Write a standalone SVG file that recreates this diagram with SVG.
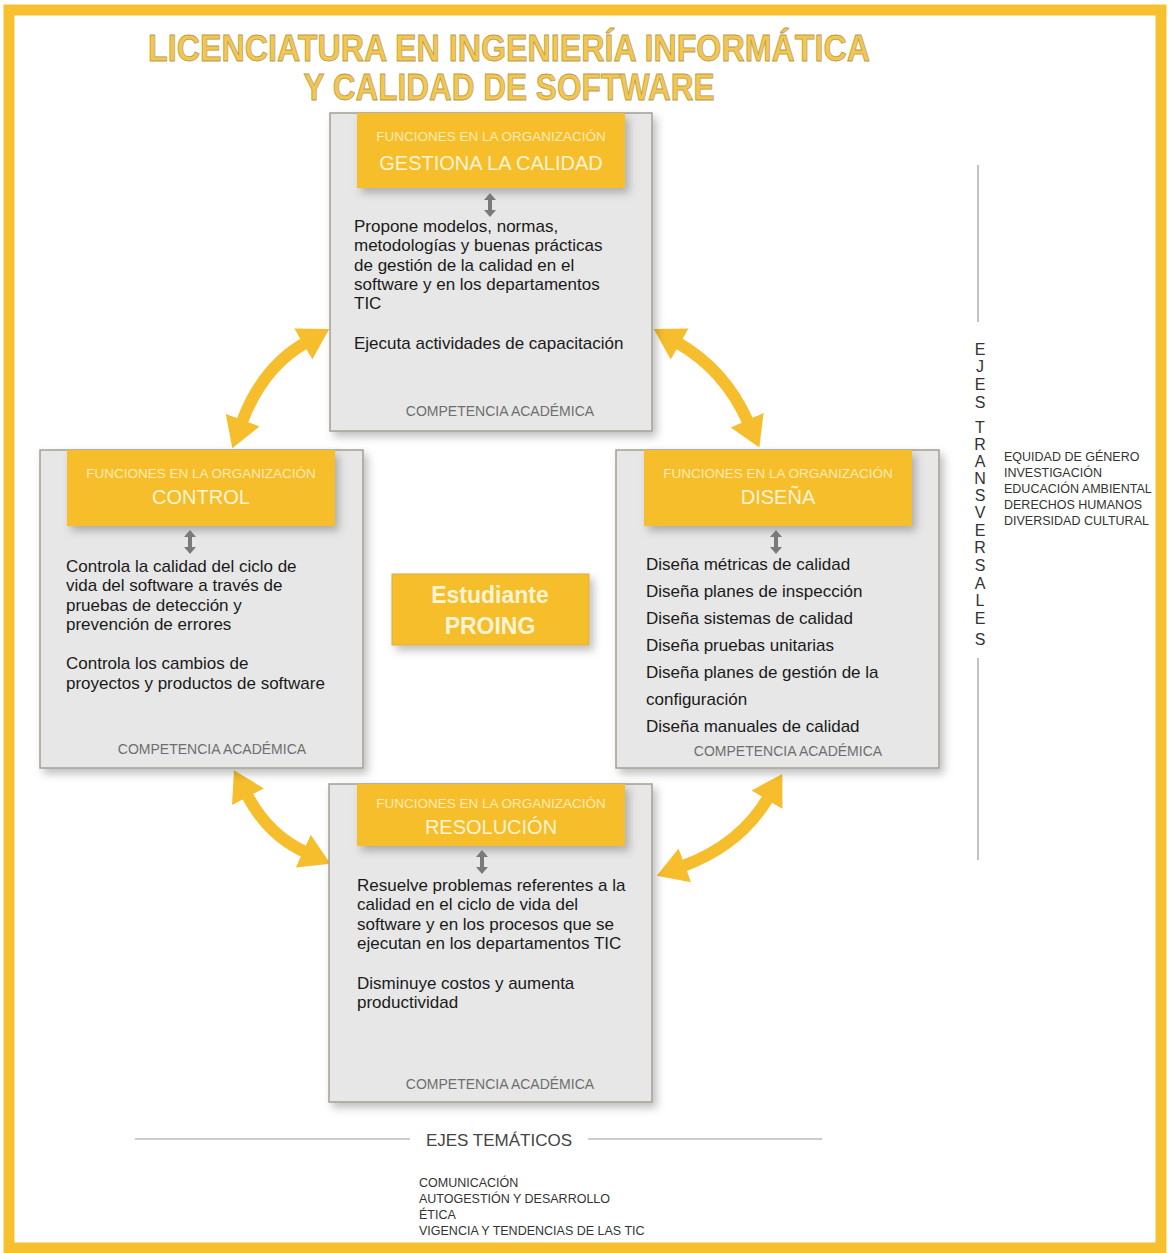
<svg xmlns="http://www.w3.org/2000/svg" width="1171" height="1253" viewBox="0 0 1171 1253">
<defs>
<style>
.body{font-family:"Liberation Sans",Arial,sans-serif;font-size:17px;fill:#1a1a1a}
.fun{font-family:"Liberation Sans",Arial,sans-serif;font-size:13.5px;fill:#FCEBB8;text-anchor:middle}
.hd{font-family:"Liberation Sans",Arial,sans-serif;font-size:20px;fill:#FFF4D6;text-anchor:middle}
.comp{font-family:"Liberation Sans",Arial,sans-serif;font-size:14px;fill:#6e6e6e;text-anchor:middle}
.small{font-family:"Liberation Sans",Arial,sans-serif;font-size:12.5px;fill:#333}
.vert{font-family:"Liberation Sans",Arial,sans-serif;font-size:16px;fill:#333;text-anchor:middle}
.title{font-family:"Liberation Sans",Arial,sans-serif;font-weight:bold;font-size:37px;fill:#F3C74E;stroke:#B89A52;stroke-width:0.8}
.card{fill:#E7E7E7;stroke:#A49E93;stroke-width:1.5}
.head{fill:#F6BE2C}
.conn{fill:none;stroke:#F6BE2C;stroke-width:12}
.dbl{fill:#7a7a7a}
.rule{stroke:#999;stroke-width:1.2}
</style>
<filter id="sh" x="-10%" y="-10%" width="130%" height="130%">
<feDropShadow dx="4" dy="5" stdDeviation="4" flood-color="#000" flood-opacity="0.25"/>
</filter>
<marker id="ah" markerUnits="userSpaceOnUse" markerWidth="34" markerHeight="38" refX="2" refY="19" orient="auto-start-reverse" viewBox="0 0 34 38">
<path d="M0,1 L30,19 L0,37 Z" fill="#F6BE2C"/>
</marker>
<path id="dblarrow" d="M0,-12 L6,-5 L2,-5 L2,5 L6,5 L0,12 L-6,5 L-2,5 L-2,-5 L-6,-5 Z"/>
</defs>
<rect x="0" y="0" width="1171" height="1253" fill="#fff"/>
<!-- frame -->
<rect x="9" y="10" width="1152" height="1238" fill="none" stroke="#F6C02E" stroke-width="11"/>

<text class="title" x="509" y="61" text-anchor="middle" textLength="722" lengthAdjust="spacingAndGlyphs">LICENCIATURA EN INGENIERÍA INFORMÁTICA</text>
<text class="title" x="509" y="100" text-anchor="middle" textLength="411" lengthAdjust="spacingAndGlyphs">Y CALIDAD DE SOFTWARE</text>

<g id="connectors">
<path class="conn" d="M242,422 Q262,368 305,343" marker-start="url(#ah)" marker-end="url(#ah)"/>
<path class="conn" d="M678,343 Q725,370 748,422" marker-start="url(#ah)" marker-end="url(#ah)"/>
<path class="conn" d="M247,795 Q268,835 305,852" marker-start="url(#ah)" marker-end="url(#ah)"/>
<path class="conn" d="M683,866 Q740,845 768,798" marker-start="url(#ah)" marker-end="url(#ah)"/>
</g>

<g id="node-gestiona">
<rect class="card" x="330" y="113" width="322" height="318" filter="url(#sh)"/>
<rect class="head" x="357" y="113" width="268" height="75" filter="url(#sh)"/>
<text class="fun" x="491" y="141">FUNCIONES EN LA ORGANIZACIÓN</text>
<text class="hd" x="491" y="170">GESTIONA LA CALIDAD</text>
<use href="#dblarrow" class="dbl" x="490" y="205"/>
<text class="body" x="354" y="232">Propone modelos, normas,</text>
<text class="body" x="354" y="251">metodologías y buenas prácticas</text>
<text class="body" x="354" y="271">de gestión de la calidad en el</text>
<text class="body" x="354" y="290">software y en los departamentos</text>
<text class="body" x="354" y="309">TIC</text>
<text class="body" x="354" y="349">Ejecuta actividades de capacitación</text>
<text class="comp" x="500" y="416">COMPETENCIA ACADÉMICA</text>
</g>

<g id="node-control">
<rect class="card" x="40" y="450" width="323" height="318" filter="url(#sh)"/>
<rect class="head" x="67" y="450" width="268" height="76" filter="url(#sh)"/>
<text class="fun" x="201" y="478">FUNCIONES EN LA ORGANIZACIÓN</text>
<text class="hd" x="201" y="504">CONTROL</text>
<use href="#dblarrow" class="dbl" x="190" y="542"/>
<text class="body" x="66" y="572">Controla la calidad del ciclo de</text>
<text class="body" x="66" y="591">vida del software a través de</text>
<text class="body" x="66" y="611">pruebas de detección y</text>
<text class="body" x="66" y="630">prevención de errores</text>
<text class="body" x="66" y="669">Controla los cambios de</text>
<text class="body" x="66" y="689">proyectos y productos de software</text>
<text class="comp" x="212" y="754">COMPETENCIA ACADÉMICA</text>
</g>

<g id="node-disena">
<rect class="card" x="616" y="450" width="323" height="318" filter="url(#sh)"/>
<rect class="head" x="644" y="450" width="268" height="76" filter="url(#sh)"/>
<text class="fun" x="778" y="478">FUNCIONES EN LA ORGANIZACIÓN</text>
<text class="hd" x="778" y="504">DISEÑA</text>
<use href="#dblarrow" class="dbl" x="776" y="542"/>
<text class="body" x="646" y="570">Diseña métricas de calidad</text>
<text class="body" x="646" y="597">Diseña planes de inspección</text>
<text class="body" x="646" y="624">Diseña sistemas de calidad</text>
<text class="body" x="646" y="651">Diseña pruebas unitarias</text>
<text class="body" x="646" y="678">Diseña planes de gestión de la</text>
<text class="body" x="646" y="705">configuración</text>
<text class="body" x="646" y="732">Diseña manuales de calidad</text>
<text class="comp" x="788" y="756">COMPETENCIA ACADÉMICA</text>
</g>

<g id="node-resolucion">
<rect class="card" x="329" y="784" width="323" height="318" filter="url(#sh)"/>
<rect class="head" x="357" y="784" width="268" height="62" filter="url(#sh)"/>
<text class="fun" x="491" y="808">FUNCIONES EN LA ORGANIZACIÓN</text>
<text class="hd" x="491" y="834">RESOLUCIÓN</text>
<use href="#dblarrow" class="dbl" x="482" y="862"/>
<text class="body" x="357" y="891">Resuelve problemas referentes a la</text>
<text class="body" x="357" y="910">calidad en el ciclo de vida del</text>
<text class="body" x="357" y="930">software y en los procesos que se</text>
<text class="body" x="357" y="949">ejecutan en los departamentos TIC</text>
<text class="body" x="357" y="989">Disminuye costos y aumenta</text>
<text class="body" x="357" y="1008">productividad</text>
<text class="comp" x="500" y="1089">COMPETENCIA ACADÉMICA</text>
</g>

<g id="node-estudiante">
<rect x="392" y="574" width="197" height="71" fill="#F6BE2C" stroke="#D8AE45" stroke-width="1" filter="url(#sh)"/>
<text x="490" y="603" text-anchor="middle" font-family="Liberation Sans, Arial, sans-serif" font-weight="bold" font-size="23" fill="#FFF4D6">Estudiante</text>
<text x="490" y="634" text-anchor="middle" font-family="Liberation Sans, Arial, sans-serif" font-weight="bold" font-size="23" fill="#FFF4D6">PROING</text>
</g>

<g id="ejes-transversales">
<line class="rule" x1="978" y1="165" x2="978" y2="322"/>
<line class="rule" x1="978" y1="658" x2="978" y2="860"/>
<text class="vert" x="980" y="355">E</text>
<text class="vert" x="980" y="372">J</text>
<text class="vert" x="980" y="390">E</text>
<text class="vert" x="980" y="408">S</text>
<text class="vert" x="980" y="433">T</text>
<text class="vert" x="980" y="450">R</text>
<text class="vert" x="980" y="467">A</text>
<text class="vert" x="980" y="484">N</text>
<text class="vert" x="980" y="501">S</text>
<text class="vert" x="980" y="518">V</text>
<text class="vert" x="980" y="536">E</text>
<text class="vert" x="980" y="553">R</text>
<text class="vert" x="980" y="571">S</text>
<text class="vert" x="980" y="589">A</text>
<text class="vert" x="980" y="606">L</text>
<text class="vert" x="980" y="624">E</text>
<text class="vert" x="980" y="645">S</text>
<text class="small" x="1004" y="461">EQUIDAD DE GÉNERO</text>
<text class="small" x="1004" y="477">INVESTIGACIÓN</text>
<text class="small" x="1004" y="493">EDUCACIÓN AMBIENTAL</text>
<text class="small" x="1004" y="509">DERECHOS HUMANOS</text>
<text class="small" x="1004" y="525">DIVERSIDAD CULTURAL</text>
</g>

<g id="ejes-tematicos">
<line class="rule" x1="135" y1="1139" x2="410" y2="1139"/>
<line class="rule" x1="588" y1="1139" x2="822" y2="1139"/>
<text x="499" y="1146" text-anchor="middle" font-family="Liberation Sans, Arial, sans-serif" font-size="17" fill="#444">EJES TEMÁTICOS</text>
<text class="small" x="419" y="1187">COMUNICACIÓN</text>
<text class="small" x="419" y="1203">AUTOGESTIÓN Y DESARROLLO</text>
<text class="small" x="419" y="1219">ÉTICA</text>
<text class="small" x="419" y="1235">VIGENCIA Y TENDENCIAS DE LAS TIC</text>
</g>
</svg>
